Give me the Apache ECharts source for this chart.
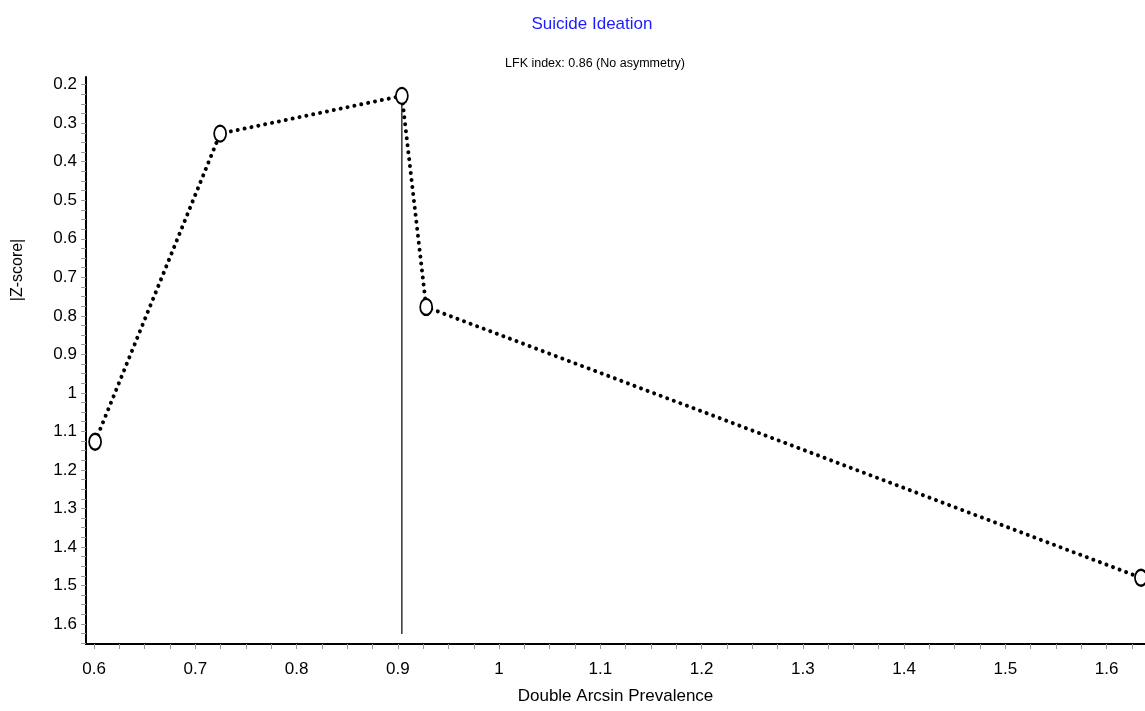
<!DOCTYPE html>
<html><head><meta charset="utf-8">
<script src="https://cdn.jsdelivr.net/npm/echarts@6/dist/echarts.min.js"></script>
<style>html,body{margin:0;padding:0;background:#fff}#c{width:1145px;height:711px}</style>
</head><body><div id="c"></div>
<script>
var titleText = 'Suicide Ideation';
var subtitleText = 'LFK index: 0.86 (No asymmetry)';
var xName = 'Double Arcsin Prevalence';
var yName = '|Z-score|';
var prevalence = [0.601, 0.7245, 0.904, 0.928, 1.634];
var zscore = [1.127, 0.327, 0.229, 0.777, 1.48];
var refLineX = [0.904, 0.904];
var refLineY = [0.229, 1.626];
var xTickLabels = [0.6, 0.7, 0.8, 0.9, 1, 1.1, 1.2, 1.3, 1.4, 1.5, 1.6];
var yTickLabels = [0.2, 0.3, 0.4, 0.5, 0.6, 0.7, 0.8, 0.9, 1, 1.1, 1.2, 1.3, 1.4, 1.5, 1.6];

var FONT = "'Liberation Sans Narrow', 'Arial Narrow', 'Liberation Sans', Arial, sans-serif";
function steps(a, b, n) { var r = []; for (var i = 0; i <= n; i++) r.push(+(a + (b - a) * i / n).toFixed(4)); return r; }
var xTicks = steps(0.6, 1.625, 41);
var yTicks = steps(0.2, 1.65, 58);
function fmt(v) { return String(Number((+v).toFixed(2))); }

var chart = echarts.init(document.getElementById('c'));
chart.setOption({
  animation: false,
  backgroundColor: '#fff',
  title: [
    { text: titleText, left: 587, top: 11, textAlign: 'center',
      textStyle: { color: '#1c1cff', fontFamily: FONT, fontSize: 17, fontWeight: 'normal' } },
    { text: subtitleText, left: 590, top: 52, textAlign: 'center',
      textStyle: { color: '#000', fontFamily: FONT, fontSize: 12.5, fontWeight: 'normal' } }
  ],
  graphic: [{
    type: 'text', x: 18, y: 270, rotation: Math.PI / 2,
    style: { text: yName, fill: '#000', font: '16px ' + FONT, textAlign: 'center', textVerticalAlign: 'middle' }
  }],
  grid: { left: 86, top: 77, right: 0, bottom: 67, containLabel: false },
  xAxis: {
    type: 'value', min: 0.592, max: 1.638, position: 'bottom',
    name: xName, nameLocation: 'middle', nameGap: 44,
    nameTextStyle: { color: '#000', fontFamily: FONT, fontSize: 17 },
    axisLine: { onZero: false, lineStyle: { color: '#000', width: 2 } },
    axisTick: { show: true, length: 5, customValues: xTicks, lineStyle: { color: '#999', width: 1 } },
    axisLabel: { customValues: xTickLabels, formatter: fmt, color: '#000', fontFamily: FONT, fontSize: 17, margin: 17 },
    splitLine: { show: false }
  },
  yAxis: {
    type: 'value', inverse: true, min: 0.18, max: 1.652,
    axisLine: { show: true, onZero: false, lineStyle: { color: '#000', width: 2 } },
    axisTick: { show: true, length: 5, customValues: yTicks, lineStyle: { color: '#999', width: 1 } },
    axisLabel: { customValues: yTickLabels, formatter: fmt, color: '#000', fontFamily: FONT, fontSize: 17, margin: 9 },
    splitLine: { show: false }
  },
  series: [
    { type: 'line', z: 1, symbol: 'none', silent: true,
      data: refLineX.map(function (x, i) { return [x, refLineY[i]]; }),
      lineStyle: { color: '#000', width: 1.2 } },
    { type: 'line', z: 2, data: prevalence.map(function (x, i) { return [x, zscore[i]]; }),
      symbol: 'emptyCircle', symbolSize: [12, 16],
      itemStyle: { color: '#000', borderColor: '#000', borderWidth: 2 },
      lineStyle: { color: '#000', width: 4, type: [0.01, 7], cap: 'round' } }
  ]
});
</script></body></html>
